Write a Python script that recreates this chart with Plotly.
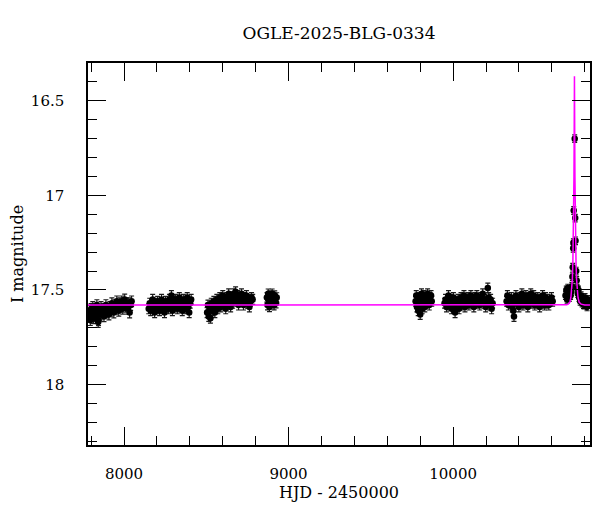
import plotly.graph_objects as go

# ---- data (HJD - 2450000, I magnitude) ----
s1_t = [7785, 7790, 7795, 7800, 7805, 7810, 7815, 7820, 7825, 7830, 7835, 7840, 7843, 7845, 7850,
        7855, 7860, 7866, 7872, 7878, 7884, 7890, 7896, 7902, 7908, 7914, 7920, 7926, 7932, 7938,
        7944, 7950, 7956, 7962, 7968, 7974, 7980, 7986, 7992, 7998, 8004, 8010, 8016, 8022, 8028,
        8034, 8040, 8046]
s1_m = [17.64, 17.61, 17.66, 17.60, 17.63, 17.59, 17.65, 17.62, 17.60, 17.64, 17.58, 17.62, 17.67, 17.66, 17.61,
        17.63, 17.59, 17.62, 17.60, 17.64, 17.61, 17.58, 17.62, 17.60, 17.63, 17.59, 17.61, 17.57, 17.60, 17.62,
        17.58, 17.60, 17.56, 17.59, 17.61, 17.57, 17.59, 17.56, 17.60, 17.58, 17.55, 17.59, 17.57, 17.60, 17.57,
        17.62, 17.58, 17.56]

s2_t = [8150, 8156, 8162, 8168, 8174, 8180, 8186, 8192, 8198, 8204, 8210, 8216, 8222, 8228, 8234,
        8240, 8246, 8252, 8258, 8264, 8270, 8276, 8282, 8288, 8294, 8300, 8306, 8312, 8318, 8324,
        8330, 8336, 8342, 8348, 8354, 8360, 8366, 8372, 8378, 8384, 8390, 8396, 8402, 8408]
s2_m = [17.60, 17.57, 17.61, 17.58, 17.55, 17.59, 17.62, 17.57, 17.60, 17.56, 17.59, 17.61, 17.57, 17.55, 17.60,
        17.58, 17.62, 17.56, 17.59, 17.57, 17.60, 17.55, 17.58, 17.53, 17.61, 17.56, 17.59, 17.55, 17.58, 17.60,
        17.56, 17.54, 17.59, 17.57, 17.61, 17.55, 17.58, 17.60, 17.56, 17.54, 17.59, 17.62, 17.57, 17.55]

s3_t = [8505, 8510, 8515, 8520, 8525, 8530, 8535, 8540, 8546, 8552, 8558, 8564, 8570, 8576, 8582,
        8588, 8594, 8600, 8606, 8612, 8618, 8624, 8630, 8636, 8642, 8648, 8654, 8660, 8666, 8672,
        8678, 8684, 8690, 8696, 8702, 8708, 8714, 8720, 8726, 8732, 8738, 8744, 8750, 8756, 8762,
        8768, 8775, 8782]
s3_m = [17.62, 17.58, 17.64, 17.60, 17.65, 17.57, 17.61, 17.59, 17.56, 17.62, 17.58, 17.55, 17.60, 17.57, 17.54,
        17.59, 17.56, 17.53, 17.58, 17.55, 17.60, 17.54, 17.57, 17.52, 17.56, 17.59, 17.54, 17.57, 17.52, 17.55,
        17.51, 17.56, 17.53, 17.58, 17.54, 17.56, 17.52, 17.55, 17.58, 17.54, 17.56, 17.53, 17.57, 17.55, 17.59,
        17.56, 17.54, 17.55]

s4_t = [8868, 8872, 8876, 8880, 8884, 8888, 8892, 8896, 8900, 8904, 8908, 8912, 8916, 8920, 8924, 8928]
s4_m = [17.54, 17.58, 17.52, 17.56, 17.59, 17.53, 17.55, 17.57, 17.52, 17.56, 17.54, 17.58, 17.53, 17.55, 17.57, 17.54]

s5_t = [9772, 9776, 9780, 9784, 9788, 9792, 9796, 9800, 9804, 9808, 9812, 9816, 9820, 9824, 9828,
        9832, 9836, 9840, 9845, 9850, 9855, 9860, 9866, 9870]
s5_m = [17.56, 17.53, 17.59, 17.55, 17.61, 17.54, 17.58, 17.63, 17.56, 17.52, 17.60, 17.55, 17.57, 17.53, 17.59,
        17.55, 17.57, 17.54, 17.52, 17.56, 17.58, 17.54, 17.53, 17.56]

s6_t = [9948, 9954, 9960, 9966, 9972, 9978, 9984, 9990, 9996, 10002, 10008, 10012, 10018, 10024, 10030,
        10036, 10042, 10048, 10054, 10060, 10066, 10072, 10078, 10084, 10090, 10096, 10102, 10108, 10114, 10120,
        10126, 10132, 10138, 10144, 10150, 10156, 10162, 10168, 10174, 10180, 10186, 10192, 10198, 10204, 10211,
        10216, 10222, 10228, 10234, 10240]
s6_m = [17.57, 17.55, 17.59, 17.56, 17.53, 17.58, 17.55, 17.60, 17.57, 17.54, 17.59, 17.62, 17.56, 17.58, 17.55,
        17.60, 17.57, 17.54, 17.58, 17.56, 17.53, 17.59, 17.55, 17.57, 17.54, 17.58, 17.56, 17.53, 17.57, 17.55,
        17.59, 17.54, 17.56, 17.53, 17.57, 17.55, 17.58, 17.54, 17.56, 17.52, 17.57, 17.55, 17.59, 17.56, 17.49,
        17.54, 17.58, 17.55, 17.60, 17.57]

s7_t = [10325, 10330, 10336, 10342, 10348, 10354, 10360, 10366, 10370, 10376, 10382, 10388, 10394, 10400, 10406,
        10412, 10418, 10424, 10430, 10436, 10442, 10448, 10454, 10460, 10466, 10472, 10478, 10484, 10490, 10496,
        10502, 10508, 10514, 10520, 10526, 10532, 10538, 10544, 10550, 10556, 10562, 10568, 10575, 10582, 10590,
        10598, 10605]
s7_m = [17.56, 17.53, 17.58, 17.55, 17.57, 17.54, 17.59, 17.61, 17.64, 17.56, 17.53, 17.57, 17.55, 17.59, 17.54,
        17.56, 17.52, 17.58, 17.55, 17.57, 17.53, 17.56, 17.59, 17.54, 17.56, 17.52, 17.57, 17.55, 17.53, 17.58,
        17.55, 17.57, 17.54, 17.56, 17.59, 17.55, 17.57, 17.53, 17.56, 17.58, 17.54, 17.57, 17.55, 17.58, 17.56,
        17.54, 17.56]

s8_t = [10683, 10688, 10693, 10697, 10702, 10706, 10710, 10714, 10718, 10722, 10725, 10727, 10730, 10731, 10733,
        10739, 10742, 10744, 10748, 10751, 10754, 10758, 10762, 10766, 10772, 10778, 10784, 10790, 10796, 10802,
        10808, 10814, 10820, 10826]
s8_m = [17.53, 17.50, 17.55, 17.49, 17.52, 17.54, 17.50, 17.53, 17.51, 17.48, 17.43, 17.38, 17.28, 17.25, 17.08,
        16.70, 17.12, 17.24, 17.40, 17.45, 17.49, 17.52, 17.50, 17.54, 17.56, 17.53, 17.57, 17.55, 17.58, 17.54,
        17.56, 17.59, 17.55, 17.57]

season_t = [s1_t, s2_t, s3_t, s4_t, s5_t, s6_t, s7_t, s8_t]
season_m = [s1_m, s2_m, s3_m, s4_m, s5_m, s6_m, s7_m, s8_m]
season_err = [0.028, 0.026, 0.026, 0.025, 0.026, 0.026, 0.026, 0.020]

# model light curve (magenta)
model_t = [7781, 10600, 10690, 10700, 10710, 10716, 10721, 10725, 10728, 10731, 10733, 10734.5, 10735.5,
           10736.5, 10737.5, 10738.5, 10739.5, 10740.5, 10742, 10744, 10747, 10750, 10754, 10759, 10766,
           10778, 10800, 10832]
model_m = [17.58, 17.58, 17.578, 17.575, 17.565, 17.54, 17.50, 17.44, 17.35, 17.22, 17.08, 16.90, 16.75,
           16.55, 16.37, 16.55, 16.75, 16.90, 17.08, 17.22, 17.35, 17.44, 17.50, 17.54, 17.565,
           17.575, 17.58, 17.58]

x_range = [7781, 10832]
y_range = [18.32, 16.30]
x_tickvals = [8000, 9000, 10000]
x_ticktext = ["8000", "9000", "10000"]
y_tickvals = [16.5, 17.0, 17.5, 18.0]
y_ticktext = ["16.5", "17", "17.5", "18"]

title_text = "OGLE-2025-BLG-0334"
x_title = "HJD - 2450000"
y_title = "I magnitude"

FONT = "DejaVu Serif"

fig = go.Figure()
for ts, ms, e in zip(season_t, season_m, season_err):
    fig.add_trace(go.Scatter(
        x=ts, y=ms, mode="markers",
        marker=dict(color="black", size=6.5, symbol="circle"),
        error_y=dict(type="constant", value=e, color="#1a1a1a", thickness=1.2, width=2.5),
        showlegend=False, hoverinfo="x+y"))

fig.add_trace(go.Scatter(x=model_t, y=model_m, mode="lines",
                         line=dict(color="#ff00ff", width=1.5), showlegend=False))

tick_common = dict(
    showgrid=False, zeroline=False, showline=True, linecolor="black", linewidth=1.5,
    mirror="allticks", ticks="inside", tickcolor="black", tickwidth=1.3, ticklen=18, automargin=False,
    tickfont=dict(family=FONT, size=15, color="black"),
)
xminor = dict(ticks="inside", dtick=200, tick0=0, ticklen=9, tickcolor="black", tickwidth=1.3)
yminor = dict(ticks="inside", dtick=0.1, tick0=0, ticklen=9, tickcolor="black", tickwidth=1.3)

fig.update_layout(
    width=600, height=512,
    margin=dict(l=80, r=18, t=55, b=75),
    paper_bgcolor="white", plot_bgcolor="white",
    title=dict(text=title_text, x=0.5, xref="paper", xanchor="center",
               y=1 - 25 / 512, yref="container", yanchor="middle",
               font=dict(family=FONT, size=17, color="black")),
    xaxis=dict(**tick_common, range=x_range, tickvals=x_tickvals, ticktext=x_ticktext,
               minor=xminor, ticklabelstandoff=14,
               title=dict(text=x_title, font=dict(family=FONT, size=16, color="black"), standoff=2)),
    yaxis=dict(**tick_common, range=y_range, tickvals=y_tickvals, ticktext=y_ticktext,
               minor=yminor, ticklabelstandoff=19,
               title=dict(text=y_title, font=dict(family=FONT, size=16, color="black"), standoff=10)),
)

fig.write_html("out.html")
